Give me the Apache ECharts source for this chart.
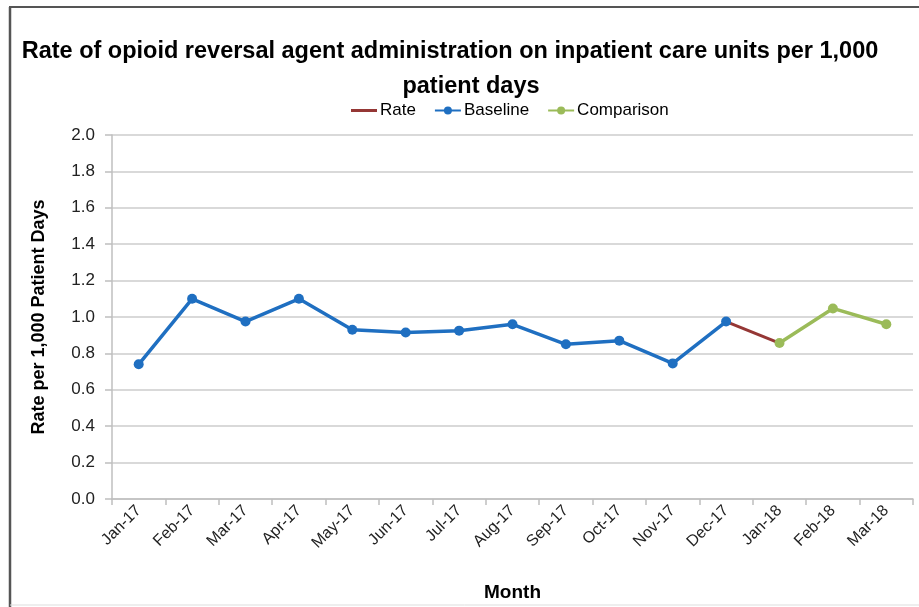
<!DOCTYPE html>
<html>
<head>
<meta charset="utf-8">
<title>Opioid reversal agent rate</title>
<script src="https://cdn.jsdelivr.net/npm/echarts@6/dist/echarts.min.js"></script>
<style>
  html, body { margin: 0; padding: 0; background: #fff; }
  #chart { width: 919px; height: 607px; }
</style>
</head>
<body>
<div id="chart"></div>
<script>
// ---- data ----
var months = ["Jan-17", "Feb-17", "Mar-17", "Apr-17", "May-17", "Jun-17", "Jul-17",
  "Aug-17", "Sep-17", "Oct-17", "Nov-17", "Dec-17", "Jan-18", "Feb-18", "Mar-18"];
var baseline = [0.74, 1.10, 0.975, 1.10, 0.93, 0.915, 0.925, 0.96, 0.85, 0.87, 0.745, 0.975,
  null, null, null];
var rate = [null, null, null, null, null, null, null, null, null, null, null, 0.975, 0.857,
  null, null];
var comparison = [null, null, null, null, null, null, null, null, null, null, null, null,
  0.857, 1.047, 0.96];
var yTicks = { min: 0, max: 2, interval: 0.2 };

var BLUE = "#1f6fc1";
var RED = "#953735";
var GREEN = "#9bbb59";
var FONT = "Liberation Sans";

var chart = echarts.init(document.getElementById("chart"), null, { renderer: "canvas" });

var titleFont = {
  fontFamily: FONT,
  fontWeight: "bold",
  fontSize: 23.5,
  color: "#000"
};

chart.setOption({
  animation: false,
  title: [
    { text: "Rate of opioid reversal agent administration on inpatient care units per 1,000",
      left: 445, top: 35, textAlign: "center", textStyle: titleFont },
    { text: "patient days", left: 466, top: 70, textAlign: "center", textStyle: titleFont }
  ],
  legend: {
    top: 97,
    left: 346,
    itemWidth: 26,
    itemHeight: 10,
    itemGap: 18,
    textStyle: { fontFamily: FONT, fontSize: 17, color: "#000", padding: [0, 0, 0, -2] },
    data: [
      { name: "Rate", icon: "path://M0,4 L26,4 L26,7 L0,7 Z" },
      "Baseline",
      "Comparison"
    ]
  },
  grid: { left: 112, right: 6, top: 135, bottom: 106, containLabel: false },
  xAxis: {
    type: "category",
    data: months,
    name: "Month",
    nameLocation: "middle",
    nameGap: 84,
    nameTextStyle: { fontFamily: FONT, fontWeight: "bold", fontSize: 19, color: "#000" },
    boundaryGap: true,
    axisLine: { lineStyle: { color: "#bfbfbf", width: 1.5 } },
    axisTick: { show: true, length: 6, alignWithLabel: false, lineStyle: { color: "#bfbfbf", width: 1.5 } },
    axisLabel: {
      rotate: 45,
      interval: 0,
      margin: 9,
      fontFamily: FONT,
      fontSize: 16,
      color: "#222"
    },
    splitLine: { show: false }
  },
  yAxis: {
    type: "value",
    min: yTicks.min,
    max: yTicks.max,
    interval: yTicks.interval,
    name: "Rate per 1,000 Patient Days",
    nameLocation: "middle",
    nameGap: 64,
    nameTextStyle: { fontFamily: FONT, fontWeight: "bold", fontSize: 18, color: "#000" },
    axisLine: { show: true, lineStyle: { color: "#bfbfbf", width: 1.5 } },
    axisTick: { show: true, length: 7, lineStyle: { color: "#bfbfbf", width: 1.5 } },
    axisLabel: {
      margin: 17,
      fontFamily: FONT,
      fontSize: 17,
      color: "#222",
      formatter: function (v) { return v.toFixed(1); }
    },
    splitLine: { show: true, lineStyle: { color: "#d9d9d9", width: 2 } }
  },
  series: [
    {
      name: "Rate", type: "line", data: rate,
      symbol: "none",
      lineStyle: { color: RED, width: 3 },
      itemStyle: { color: RED }
    },
    {
      name: "Baseline", type: "line", data: baseline,
      symbol: "circle", symbolSize: 10,
      lineStyle: { color: BLUE, width: 3.5 },
      itemStyle: { color: BLUE }
    },
    {
      name: "Comparison", type: "line", data: comparison,
      symbol: "circle", symbolSize: 10,
      lineStyle: { color: GREEN, width: 3.5 },
      itemStyle: { color: GREEN }
    }
  ],
  graphic: [
    // chart frame: dark top and left edges, faint bottom edge
    { type: "line", shape: { x1: 9, y1: 7, x2: 919, y2: 7 }, style: { stroke: "#555", lineWidth: 2 } },
    { type: "line", shape: { x1: 10, y1: 7, x2: 10, y2: 607 }, style: { stroke: "#555", lineWidth: 2.5 } },
    { type: "line", shape: { x1: 10, y1: 605, x2: 919, y2: 605 }, style: { stroke: "#ddd", lineWidth: 1 } }
  ]
});
</script>
</body>
</html>
